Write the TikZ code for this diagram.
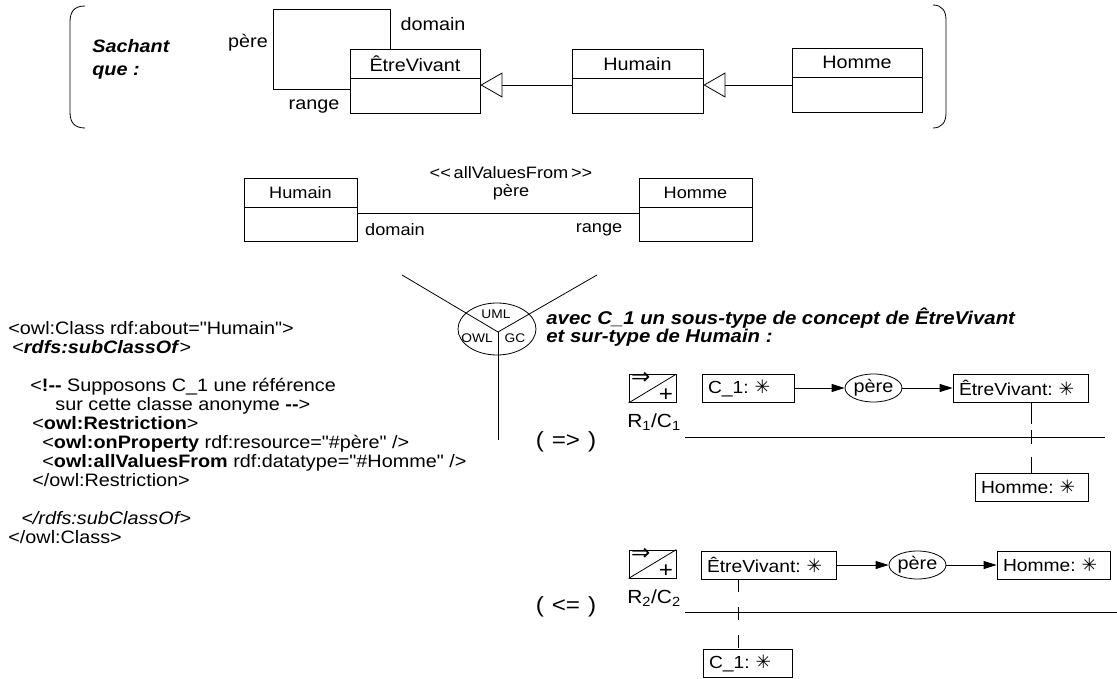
\documentclass[tikz,border=0pt]{standalone}
\usepackage{fontspec}
\setmainfont{Liberation Sans}[Ligatures=TeXOff,FakeStretch=1.1]
\newfontfamily\symfont{DejaVu Sans}
\usetikzlibrary{arrows.meta,positioning,shapes.geometric}

\newcommand{\etoile}{{\symfont\fontsize{18.5}{17}\selectfont ✳}}

\begin{document}
\begin{tikzpicture}[
  x=1pt, y=-1pt, line width=0.8pt,
  classbox/.style={draw, minimum height=64pt, inner sep=0pt},
  cname/.style={inner sep=0pt, font=\fontsize{18}{18}\selectfont},
  toplbl/.style={inner sep=0pt, font=\fontsize{18}{18}\selectfont},
  midlbl/.style={inner sep=0pt, font=\fontsize{16.5}{16.5}\selectfont},
  inherit/.style={-{Triangle[open,length=22pt,width=25pt]}},
  code/.style={inner sep=0pt, align=left, font=\fontsize{18}{19}\selectfont},
  cbox/.style={draw, minimum height=28pt, inner xsep=6pt, inner ysep=0pt, text width=#1, align=left, font=\fontsize{17.5}{18}\selectfont},
  rel/.style={draw, ellipse, minimum width=57pt, minimum height=28pt, inner sep=0pt, font=\fontsize{18}{18}\selectfont},
  negbox/.style={draw, minimum width=47pt, minimum height=28pt, inner sep=0pt},
  ctx/.style={inner sep=0pt, font=\fontsize{19}{19}\selectfont},
  impl/.style={inner sep=0pt, font=\fontsize{22}{22}\selectfont},
  arr/.style={-{Triangle[length=13pt,width=8pt]}}
]
\useasboundingbox (0,0) rectangle (1117,679);

% ---- Sachant que : ----
\draw (85,6) .. controls (74,6) and (70,12) .. (70,22) -- (70,112) .. controls (70,122) and (74,128) .. (85,128);
\draw (933,5) .. controls (942,5) and (946,11) .. (946,20) -- (946,113) .. controls (946,122) and (942,128) .. (933,128);
\node[inner sep=0pt, align=left, anchor=west, font=\fontsize{18}{23}\selectfont\bfseries\itshape] (sq) at (92,59) {Sachant\\que :};

\node[classbox, minimum width=130pt] (ev) at (415,81) {};
\node[classbox, minimum width=131pt] (hu) at (637.5,81) {};
\node[classbox, minimum width=130pt] (ho) at (857,80) {};
\node[cname] (ev-t) at ([yshift=-15pt]ev.north) {ÊtreVivant};
\node[cname] (hu-t) at ([yshift=-15pt]hu.north) {Humain};
\node[cname] (ho-t) at ([yshift=-15pt]ho.north) {Homme};

\draw ([xshift=41pt]ev.north west) |- (273,9) |- ([yshift=-8pt]ev.west);
\node[toplbl] (l-dom) at (433,24) {domain};
\node[toplbl] (l-pere) at (248,43) {père};
\node[toplbl] (l-rng) at (314,107) {range};

\draw[inherit] ([yshift=-4pt]hu.west) -- ([yshift=-4pt]ev.east);
\draw[inherit] ([yshift=-5pt]ho.west) -- ([yshift=-4pt]hu.east);

% ---- UML ----
\node[classbox, minimum width=113pt, minimum height=63pt] (hu2) at (300.5,209.5) {};
\node[classbox, minimum width=113pt, minimum height=63pt] (ho2) at (695.5,209.5) {};
\node[midlbl] (hu2-t) at ([yshift=-15pt]hu2.north) {Humain};
\node[midlbl] (ho2-t) at ([yshift=-15pt]ho2.north) {Homme};
\foreach \n in {ev,hu,ho,hu2,ho2}
  \draw ([yshift=-30pt]\n.north west) -- ([yshift=-30pt]\n.north east);

\draw ([yshift=-3.5pt]hu2.east) -- ([yshift=-3.5pt]ho2.west);
\node[midlbl] (st) at (511,173) {<<\,allValuesFrom\,>>};
\node[midlbl] (st-pere) at (511,192) {père};
\node[midlbl] (st-dom) at (395,230) {domain};
\node[midlbl] (st-rng) at (599,230) {range};

% ---- triangle UML / OWL / GC ----
\coordinate (yc) at (498,332);
\draw (yc) -- (402,275);
\draw (yc) -- (597,275);
\draw (yc) -- (498,440);
\node[draw, ellipse, minimum width=78pt, minimum height=52pt, inner sep=0pt] (yell) at (497,329) {};
\node[inner sep=0pt, font=\fontsize{12.5}{12.5}\selectfont] (y-uml) at (496,314) {UML};
\node[inner sep=0pt, font=\fontsize{12.5}{12.5}\selectfont] (y-owl) at (477,338) {OWL};
\node[inner sep=0pt, font=\fontsize{12.5}{12.5}\selectfont] (y-gc) at (515,338) {GC};

% ---- OWL ----
\node[code, anchor=north west] (owl) at (8,321) {%
<owl:Class rdf:about="Humain">\\
\hspace*{4pt}<\textbf{\textit{rdfs:subClassOf}}>\\
\mbox{}\\
\hspace*{22pt}<\textbf{!--} Supposons C\_1 une référence\\
\hspace*{47pt}sur cette classe anonyme \textbf{--}>\\
\hspace*{24pt}<\textbf{owl:Restriction}>\\
\hspace*{34pt}<\textbf{owl:onProperty} rdf:resource="\#père" />\\
\hspace*{34pt}<\textbf{owl:allValuesFrom} rdf:datatype="\#Homme" />\\
\hspace*{24pt}</owl:Restriction>\\
\mbox{}\\
\hspace*{13pt}\textit{</rdfs:subClassOf>}\\
</owl:Class>};

% ---- GC ----
\node[inner sep=0pt, align=left, anchor=west, font=\fontsize{18.5}{18.5}\selectfont\bfseries\itshape] (avec) at (546,327)
  {avec C\_1 un sous-type de concept de ÊtreVivant\\et sur-type de Humain :};

% R1/C1
\node[negbox] (r1) at (652.5,388.5) {};
\draw (r1.south west) -- (r1.north east);
\node[inner sep=0pt, anchor=north west, font=\symfont\fontsize{23}{23}\selectfont] (r1-imp) at ([shift={(2pt,2pt)}]r1.north west) {⇒};
\node[inner sep=0pt, anchor=south east, font=\fontsize{22}{22}\selectfont] (r1-plus) at ([shift={(-3pt,1pt)}]r1.south east) {+};
\node[ctx] (r1-lbl) at (654,422) {R\textsubscript{1}/C\textsubscript{1}};
\node[impl] (imp1) at (566,442) {(\hspace{8pt}=>\hspace{8pt})};
\draw (685,437) -- (1105,437);
\node[cbox=80pt] (c1a) at (748,388) {C\_1:~\etoile};
\node[rel] (pere1) at (873.5,388) {père};
\node[cbox=123pt] (ev1) at (1020.5,388) {ÊtreVivant:~\etoile};
\node[cbox=101pt] (ho1) at (1031.5,487) {Homme:~\etoile};
\draw[arr] (c1a) -- (pere1);
\draw[arr] (pere1) -- (ev1);
\draw[dash pattern=on 22pt off 6pt on 14pt off 13pt] (ho1.north |- ev1.south) -- (ho1.north);

% R2/C2
\node[negbox] (r2) at (652.5,564) {};
\draw (r2.south west) -- (r2.north east);
\node[inner sep=0pt, anchor=north west, font=\symfont\fontsize{23}{23}\selectfont] (r2-imp) at ([shift={(2pt,2pt)}]r2.north west) {⇒};
\node[inner sep=0pt, anchor=south east, font=\fontsize{22}{22}\selectfont] (r2-plus) at ([shift={(-3pt,1pt)}]r2.south east) {+};
\node[ctx] (r2-lbl) at (654,598) {R\textsubscript{2}/C\textsubscript{2}};
\node[impl] (imp2) at (566,607) {(\hspace{8pt}<=\hspace{8pt})};
\draw (685,612) -- (1117,612);
\node[cbox=123pt] (ev2) at (768.5,565) {ÊtreVivant:~\etoile};
\node[rel] (pere2) at (917.5,565) {père};
\node[cbox=101pt] (ho3) at (1053.5,565) {Homme:~\etoile};
\node[cbox=77pt] (c1b) at (747.5,663) {C\_1:~\etoile};
\draw[arr] (ev2) -- (pere2);
\draw[arr] (pere2) -- (ho3);
\draw[dash pattern=on 13pt off 15pt on 13pt off 15pt] ([xshift=-30pt]ev2.south) -- ([xshift=-30pt]ev2.south |- c1b.north);
\end{tikzpicture}
\end{document}
